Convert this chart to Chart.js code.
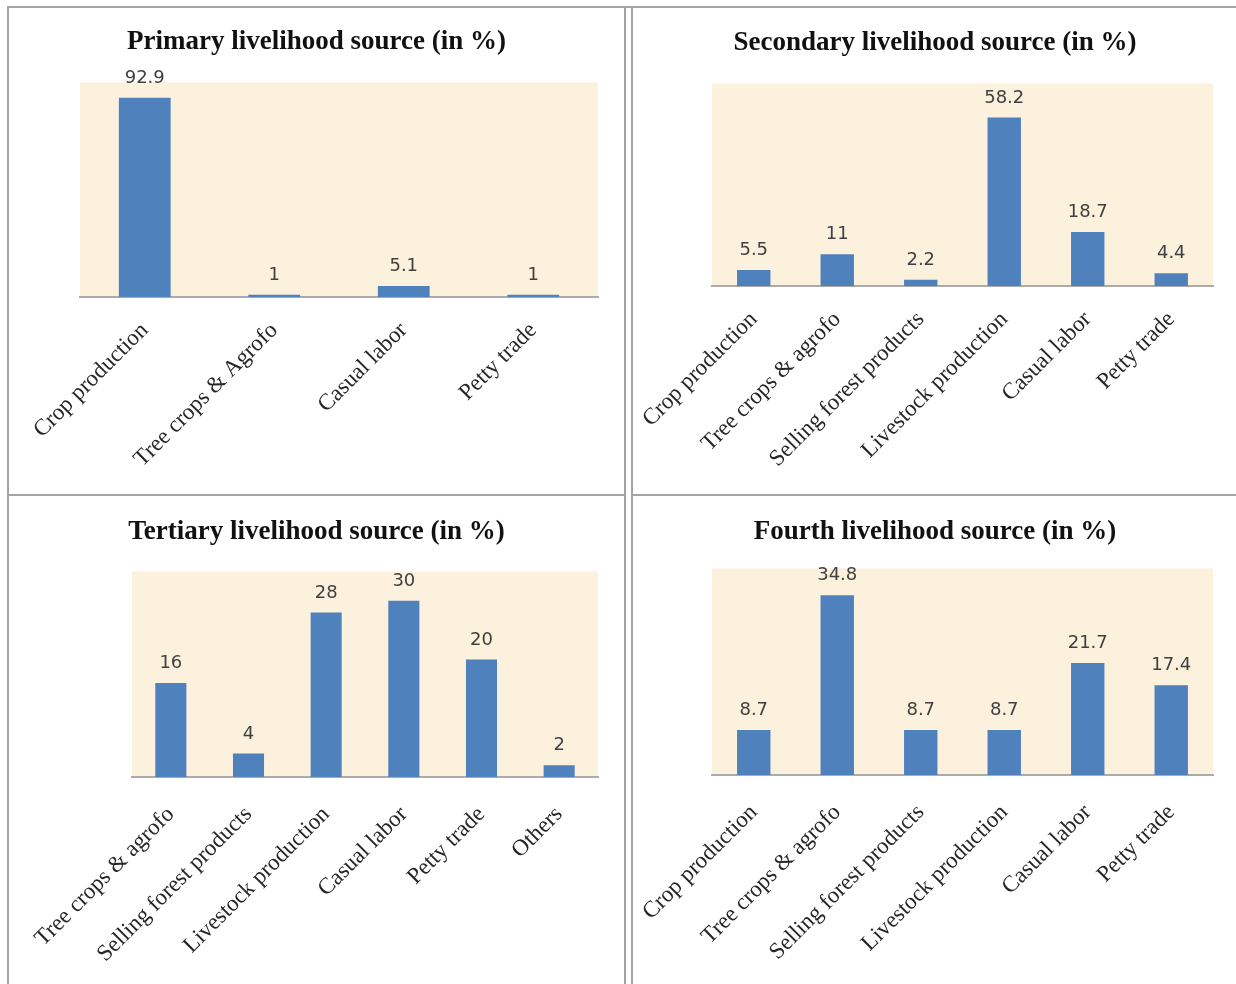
<!DOCTYPE html>
<html lang="en">
	<head>
		<meta charset="UTF-8" />
		<title>Livelihood sources</title>
		<script src="https://cdn.jsdelivr.net/npm/chart.js@4.4.0/dist/chart.umd.min.js"></script>
		<style>
			body {
				margin: 0;
				background: #fff;
				width: 1236px;
				height: 984px;
				position: relative;
				overflow: hidden;
			}
			.line {
				position: absolute;
				background: #a3a3a3;
			}
			.panel {
				position: absolute;
			}
		</style>
	</head>
	<body>
		<!-- frame lines -->
		<div class="line" style="left: 7px; top: 6px; width: 1229px; height: 2px"></div>
		<div class="line" style="left: 7px; top: 6px; width: 2px; height: 978px"></div>
		<div class="line" style="left: 624px; top: 6px; width: 2px; height: 978px"></div>
		<div class="line" style="left: 631px; top: 6px; width: 2px; height: 978px"></div>
		<div class="line" style="left: 7px; top: 494px; width: 619px; height: 2px"></div>
		<div class="line" style="left: 631px; top: 494px; width: 605px; height: 2px"></div>

		<div class="panel" style="left: 10px; top: 9px; width: 613px; height: 484px">
			<canvas id="primary"></canvas>
		</div>
		<div class="panel" style="left: 634px; top: 9px; width: 602px; height: 484px">
			<canvas id="secondary"></canvas>
		</div>
		<div class="panel" style="left: 10px; top: 497px; width: 613px; height: 487px">
			<canvas id="tertiary"></canvas>
		</div>
		<div class="panel" style="left: 634px; top: 497px; width: 602px; height: 487px">
			<canvas id="fourth"></canvas>
		</div>

		<script>
			// data
			const primaryLabels = ["Crop production", "Tree crops & Agrofo", "Casual labor", "Petty trade"];
			const primaryValues = [92.9, 1, 5.1, 1];

			const secondaryLabels = [
				"Crop production",
				"Tree crops & agrofo",
				"Selling forest products",
				"Livestock production",
				"Casual labor",
				"Petty trade",
			];
			const secondaryValues = [5.5, 11, 2.2, 58.2, 18.7, 4.4];

			const tertiaryLabels = [
				"Tree crops & agrofo",
				"Selling forest products",
				"Livestock production",
				"Casual labor",
				"Petty trade",
				"Others",
			];
			const tertiaryValues = [16, 4, 28, 30, 20, 2];

			const fourthLabels = [
				"Crop production",
				"Tree crops & agrofo",
				"Selling forest products",
				"Livestock production",
				"Casual labor",
				"Petty trade",
			];
			const fourthValues = [8.7, 34.8, 8.7, 8.7, 21.7, 17.4];

			// cream plot background
			const plotBg = {
				id: "plotBg",
				beforeDraw(chart) {
					const { ctx, chartArea: a } = chart;
					ctx.save();
					ctx.fillStyle = "#fcf1dc";
					ctx.fillRect(a.left, a.top, a.right - a.left, a.bottom - a.top);
					ctx.restore();
				},
			};

			// value above each bar
			const valueLabels = {
				id: "valueLabels",
				afterDatasetsDraw(chart) {
					const { ctx } = chart;
					const ds = chart.data.datasets[0];
					ctx.save();
					ctx.font = "18px 'DejaVu Sans'";
					ctx.fillStyle = "#404040";
					ctx.textAlign = "center";
					ctx.textBaseline = "alphabetic";
					chart.getDatasetMeta(0).data.forEach((bar, i) => {
						ctx.fillText(String(ds.data[i]), bar.x, bar.y - 15);
					});
					ctx.restore();
				},
			};

			function makeChart(id, title, labels, values, o) {
				new Chart(document.getElementById(id), {
					type: "bar",
					data: {
						labels: labels,
						datasets: [
							{
								data: values,
								backgroundColor: "#4f81bd",
								categoryPercentage: 1,
								barPercentage: 0.4,
							},
						],
					},
					options: {
						responsive: true,
						maintainAspectRatio: false,
						animation: false,
						layout: { padding: { left: o.side, right: o.side, top: 0, bottom: 0 } },
						plugins: {
							legend: { display: false },
							tooltip: { enabled: false },
							title: {
								display: true,
								text: title,
								color: "#111",
								font: { family: "'Liberation Serif'", size: 27, weight: "bold", lineHeight: 1.2 },
								padding: { top: o.titleY - 16, bottom: o.top - o.titleY - 16 },
							},
						},
						scales: {
							x: {
								grid: { display: false, drawTicks: false },
								border: { display: true, color: "#ababab", width: 2 },
								ticks: {
									autoSkip: false,
									minRotation: 45,
									maxRotation: 45,
									padding: o.tp,
									color: "#262626",
									font: { family: "'Liberation Serif'", size: 23 },
								},
								afterFit(scale) {
									// fixed axis band, labels may hang past the plot edge
									scale.height = o.xh;
									scale.paddingLeft = 0;
									scale.paddingRight = 0;
								},
							},
							y: {
								min: 0,
								max: o.max,
								grid: { display: false, drawTicks: false },
								border: { display: false },
								ticks: { display: false },
								afterFit(scale) {
									scale.width = o.yw;
								},
							},
						},
					},
					plugins: [plotBg, valueLabels],
				});
			}

			makeChart("primary", "Primary livelihood source (in %)", primaryLabels, primaryValues, {
				side: 25, yw: 45, xh: 196, top: 73, titleY: 33, max: 100, tp: 20,
			});
			makeChart("secondary", "Secondary livelihood source (in %)", secondaryLabels, secondaryValues, {
				side: 23, yw: 55, xh: 207, top: 74, titleY: 34, max: 70, tp: 20,
			});
			makeChart("tertiary", "Tertiary livelihood source (in %)", tertiaryLabels, tertiaryValues, {
				side: 25, yw: 97, xh: 207, top: 74, titleY: 35, max: 35, tp: 24,
			});
			makeChart("fourth", "Fourth livelihood source (in %)", fourthLabels, fourthValues, {
				side: 23, yw: 55, xh: 209, top: 71, titleY: 35, max: 40, tp: 24,
			});
		</script>
	</body>
</html>
